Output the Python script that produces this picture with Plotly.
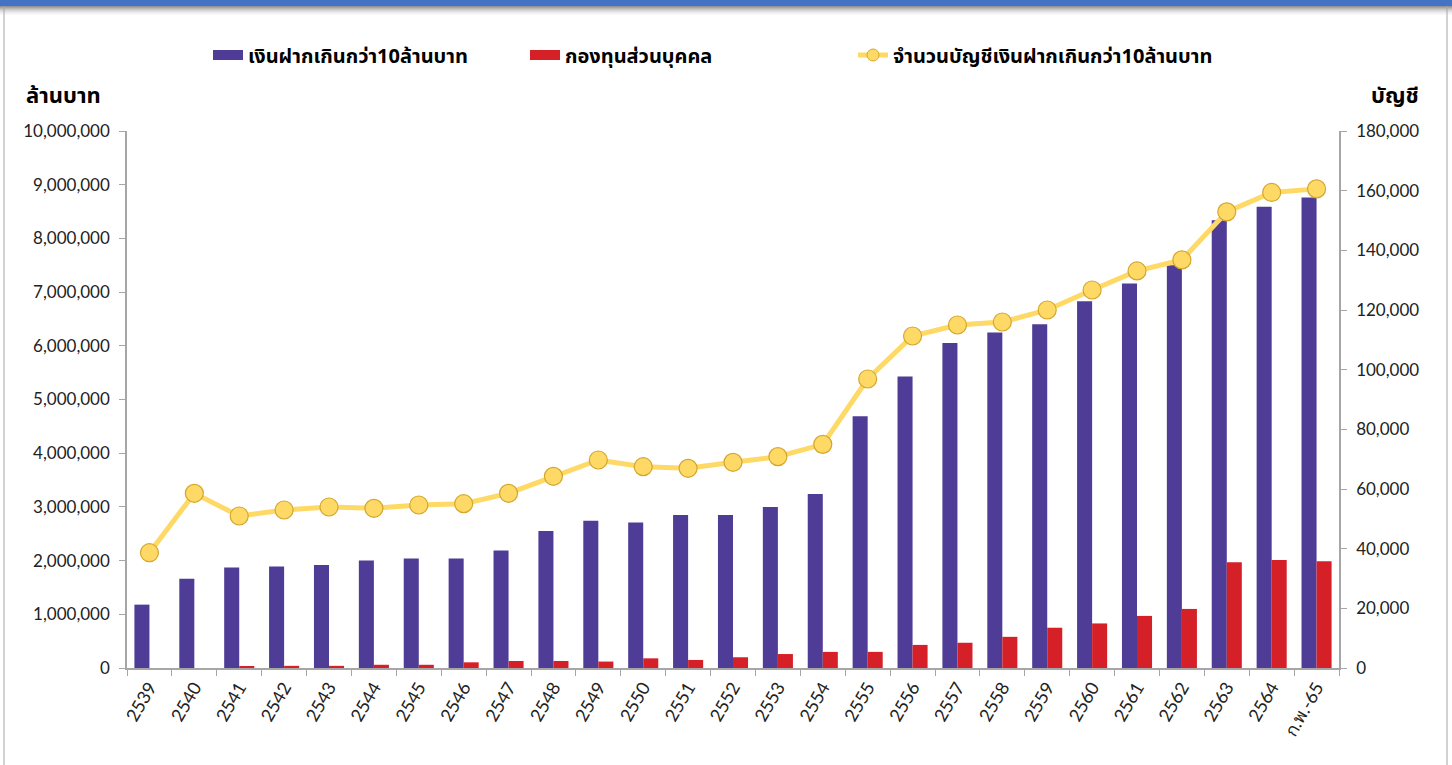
import plotly.graph_objects as go

categories = ["2539", "2540", "2541", "2542", "2543", "2544", "2545", "2546", "2547",
              "2548", "2549", "2550", "2551", "2552", "2553", "2554", "2555", "2556",
              "2557", "2558", "2559", "2560", "2561", "2562", "2563", "2564", "ก.พ.-65"]

deposits_over_10m = [1180000, 1660000, 1870000, 1890000, 1920000, 2000000, 2040000, 2040000,
                     2190000, 2550000, 2740000, 2710000, 2850000, 2850000, 3000000, 3240000,
                     4690000, 5430000, 6050000, 6250000, 6400000, 6830000, 7160000, 7500000,
                     8340000, 8590000, 8760000]

private_funds = [0, 0, 20000, 40000, 40000, 60000, 60000, 106000, 130000, 130000, 120000,
                 180000, 150000, 200000, 260000, 300000, 300000, 430000, 470000, 580000,
                 750000, 830000, 970000, 1100000, 1970000, 2010000, 1990000]

accounts_over_10m = [38650, 58550, 50950, 52960, 53970, 53520, 54640, 55080, 58550, 64250,
                     69720, 67480, 66930, 68940, 70840, 74970, 96870, 111280, 114970, 115980,
                     120000, 126700, 133100, 136800, 152900, 159400, 160600]

series_names = ["เงินฝากเกินกว่า10ล้านบาท", "กองทุนส่วนบุคคล", "จำนวนบัญชีเงินฝากเกินกว่า10ล้านบาท"]

left_ticks = list(range(0, 10000001, 1000000))
right_ticks = list(range(0, 180001, 20000))

W, H = 1452, 765
L, R, T, B = 127, 1339, 131, 668

THAI = "Tahoma, 'Noto Sans Thai', 'Leelawadee UI', 'DejaVu Sans', sans-serif"
NUM = "Lato, 'Open Sans', sans-serif"
PURPLE, RED, YELLOW, GOLD = "#4F3C96", "#D62027", "#FFD966", "#D4A72C"

fig = go.Figure()
fig.add_trace(go.Bar(x=categories, y=deposits_over_10m, name=series_names[0], showlegend=False,
                     marker=dict(color=PURPLE, line=dict(width=0))))
fig.add_trace(go.Bar(x=categories, y=private_funds, name=series_names[1], showlegend=False,
                     marker=dict(color=RED, line=dict(width=0))))
fig.add_trace(go.Scatter(x=categories, y=accounts_over_10m, name=series_names[2], showlegend=False,
                         yaxis="y2", mode="lines+markers",
                         line=dict(color=YELLOW, width=5),
                         marker=dict(size=18, color=YELLOW, line=dict(color=GOLD, width=1.2))))
# legend swatches styled like the original (wide rectangles, small marker)
fig.add_trace(go.Scatter(x=[None], y=[None], mode="lines", name="<b>" + series_names[0] + "</b>",
                         legend="legend", line=dict(color=PURPLE, width=14), hoverinfo="skip"))
fig.add_trace(go.Scatter(x=[None], y=[None], mode="lines", name="<b>" + series_names[1] + "</b>",
                         legend="legend2", line=dict(color=RED, width=14), hoverinfo="skip"))
fig.add_trace(go.Scatter(x=[None], y=[None], mode="lines+markers", name="<b>" + series_names[2] + "</b>",
                         legend="legend3", line=dict(color=YELLOW, width=5), hoverinfo="skip",
                         marker=dict(size=12, color=YELLOW, line=dict(color=GOLD, width=1))))

def px_x(px):
    return (px - L) / (R - L)

def px_y(py):
    return (B - py) / (B - T)

shapes = []
# top blue band
shapes.append(dict(type="rect", xref="paper", yref="paper", x0=px_x(-2), x1=px_x(W + 2),
                   y0=px_y(6), y1=px_y(-2), fillcolor="#4472C4", line=dict(width=0), layer="above"))
# shadow gradient
for i, op in enumerate([0.55, 0.45, 0.36, 0.28, 0.21, 0.15, 0.10, 0.06, 0.03]):
    shapes.append(dict(type="rect", xref="paper", yref="paper", x0=px_x(-2), x1=px_x(W + 2),
                       y0=px_y(7 + i), y1=px_y(6 + i), fillcolor="#3A3A3A",
                       opacity=op, line=dict(width=0), layer="above"))
# side borders
shapes.append(dict(type="line", xref="paper", yref="paper", x0=px_x(4), x1=px_x(4),
                   y0=px_y(H + 2), y1=px_y(6), line=dict(color="#A6A6A6", width=1)))
shapes.append(dict(type="line", xref="paper", yref="paper", x0=px_x(1447), x1=px_x(1447),
                   y0=px_y(H + 2), y1=px_y(6), line=dict(color="#A6A6A6", width=1)))

annotations = [
    dict(text="<b>ล้านบาท</b>", xref="paper", yref="paper", x=px_x(24), y=px_y(97),
         xanchor="left", yanchor="middle", showarrow=False,
         font=dict(family=THAI, size=22, color="#000000")),
    dict(text="<b>บัญชี</b>", xref="paper", yref="paper", x=px_x(1421), y=px_y(97),
         xanchor="right", yanchor="middle", showarrow=False,
         font=dict(family=THAI, size=22, color="#000000")),
]

def leg(px_left):
    return dict(orientation="h", x=px_x(px_left), y=px_y(55), xanchor="left", yanchor="middle",
                font=dict(family=THAI, size=20, color="#000000"), itemwidth=30,
                bgcolor="rgba(0,0,0,0)", borderwidth=0)

fig.update_layout(
    width=W, height=H, autosize=False,
    margin=dict(l=L, r=W - R, t=T, b=H - B, pad=0),
    paper_bgcolor="white", plot_bgcolor="white",
    barmode="group", bargap=0.33, bargroupgap=0,
    showlegend=True,
    legend=leg(208), legend2=leg(525), legend3=leg(853),
    xaxis=dict(type="category", range=[-0.5, len(categories) - 0.5], tickangle=-60,
               showline=True, linecolor="#A6A6A6", linewidth=1.5,
               ticks="outside", ticklen=6, tickcolor="#A6A6A6", tickson="boundaries",
               tickfont=dict(family=NUM, size=18, color="#222222"), showgrid=False, zeroline=False),
    yaxis=dict(range=[0, 10000000], tickvals=left_ticks, tickformat=",d", showline=True,
               linecolor="#A6A6A6", linewidth=1.5, ticks="outside", ticklen=6, tickcolor="#A6A6A6",
               ticklabelstandoff=6,
               tickfont=dict(family=NUM, size=17, color="#222222"), showgrid=False, zeroline=False),
    yaxis2=dict(range=[0, 180000], tickvals=right_ticks, tickformat=",d", overlaying="y", side="right",
                showline=True, linecolor="#A6A6A6", linewidth=1.5, ticks="outside", ticklen=6,
                tickcolor="#A6A6A6", ticklabelstandoff=6,
                tickfont=dict(family=NUM, size=17, color="#222222"),
                showgrid=False, zeroline=False),
    shapes=shapes,
    annotations=annotations,
)

fig.write_html("out.html", config={"displayModeBar": False},
               post_script="document.body.style.margin='0';document.body.style.overflow='hidden';")
